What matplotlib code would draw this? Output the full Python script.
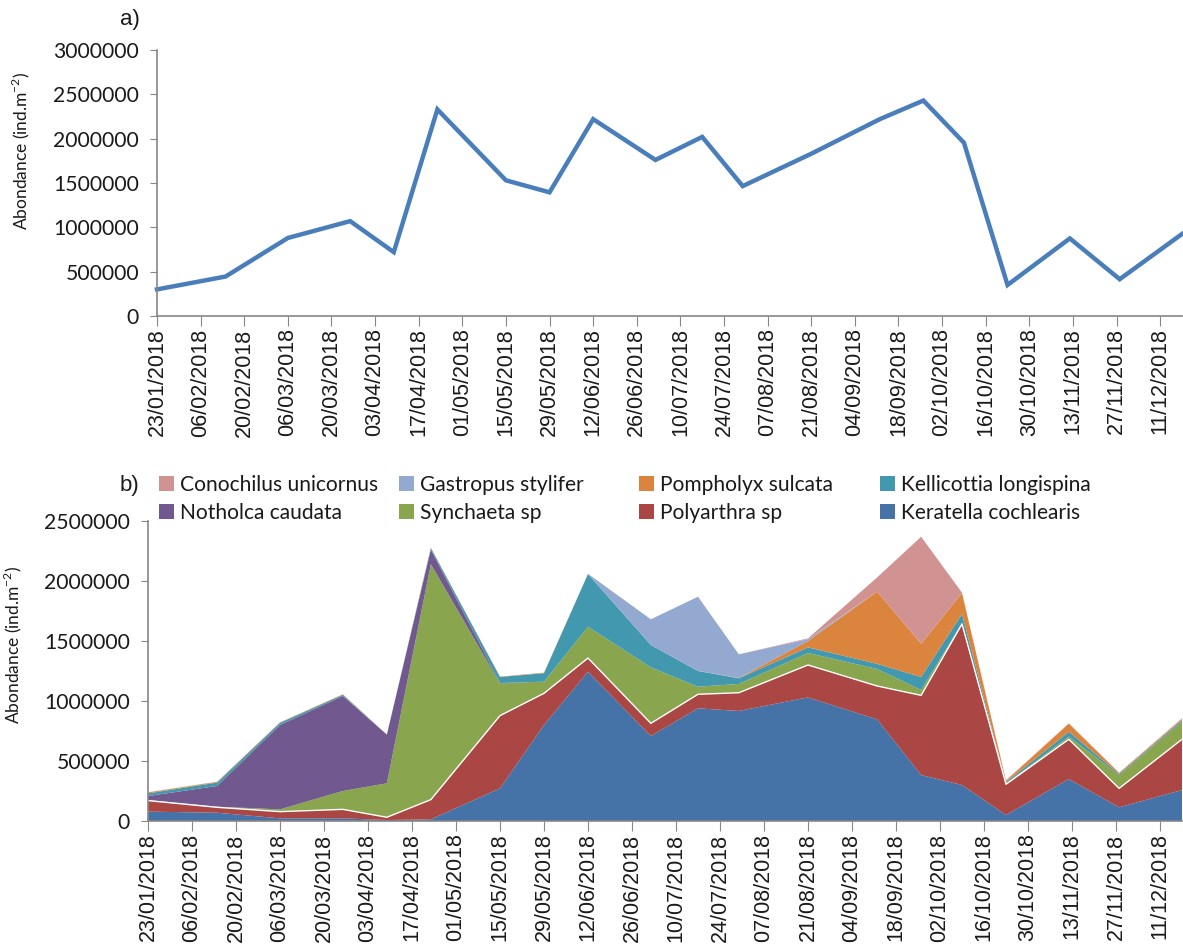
import matplotlib

matplotlib.use("Agg")
import matplotlib.pyplot as plt
import numpy as np
from matplotlib.patches import Patch
from matplotlib.ticker import StrMethodFormatter

# sampling dates (same for both panels)
sample_dates = np.array(
    [
        "2018-01-23", "2018-02-14", "2018-03-06", "2018-03-26", "2018-04-09",
        "2018-04-23", "2018-05-15", "2018-05-29", "2018-06-12", "2018-07-02",
        "2018-07-17", "2018-07-30", "2018-08-21", "2018-09-12", "2018-09-26",
        "2018-10-09", "2018-10-23", "2018-11-12", "2018-11-28", "2018-12-18",
    ],
    dtype="datetime64[D]",
)

tick_labels = [
    "23/01/2018", "06/02/2018", "20/02/2018", "06/03/2018", "20/03/2018",
    "03/04/2018", "17/04/2018", "01/05/2018", "15/05/2018", "29/05/2018",
    "12/06/2018", "26/06/2018", "10/07/2018", "24/07/2018", "07/08/2018",
    "21/08/2018", "04/09/2018", "18/09/2018", "02/10/2018", "16/10/2018",
    "30/10/2018", "13/11/2018", "27/11/2018", "11/12/2018",
]

# panel a) total abundance
total_abundance = [
    300000, 445000, 880000, 1070000, 720000, 2330000, 1530000, 1395000,
    2220000, 1760000, 2020000, 1465000, 1830000, 2220000, 2430000, 1955000,
    350000, 875000, 415000, 925000,
]

# panel b) species abundance (stack order, bottom to top)
keratella = [
    78000, 69000, 22000, 22000, 8000, 14000, 272000, 800000, 1244000, 708000,
    939000, 917000, 1030000, 847000, 383000, 300000, 50000, 350000, 114000, 258000,
]
polyarthra = [
    92000, 45000, 56000, 75000, 23000, 164000, 606000, 264000, 114000, 106000,
    117000, 152000, 270000, 278000, 664000, 1342000, 256000, 331000, 158000, 423000,
]
synchaeta = [
    5000, 5000, 19000, 153000, 283000, 1962000, 269000, 97000, 261000, 467000,
    63000, 73000, 100000, 142000, 45000, 8000, 6000, 22000, 111000, 147000,
]
notholca = [
    33000, 173000, 703000, 792000, 406000, 122000, 3000, 0, 0, 0,
    0, 0, 0, 0, 0, 0, 0, 0, 0, 0,
]
kellicottia = [
    22000, 28000, 18000, 10000, 0, 13000, 50000, 71000, 439000, 186000,
    131000, 47000, 47000, 43000, 108000, 75000, 10000, 41000, 9000, 12000,
]
pompholyx = [
    8000, 6000, 4000, 4000, 0, 3000, 3000, 4000, 0, 0,
    0, 3000, 53000, 601000, 278000, 175000, 13000, 68000, 8000, 10000,
]
gastropus = [
    2000, 2000, 0, 0, 0, 0, 0, 0, 2000, 214000,
    619000, 197000, 15000, 0, 0, 0, 0, 0, 0, 0,
]
conochilus = [
    0, 0, 0, 0, 0, 0, 0, 0, 0, 0,
    0, 0, 7000, 119000, 891000, 3000, 5000, 2000, 3000, 6000,
]

species_names = [
    "Keratella cochlearis", "Polyarthra sp", "Synchaeta sp", "Notholca caudata",
    "Kellicottia longispina", "Pompholyx sulcata", "Gastropus stylifer",
    "Conochilus unicornus",
]
species_colors = [
    "#4572A7", "#AA4643", "#89A54E", "#71588F",
    "#4198AF", "#DB843D", "#93A9CF", "#D19392",
]

plt.rcParams["font.family"] = ["Lato", "DejaVu Sans"]
plt.rcParams["mathtext.fontset"] = "custom"
plt.rcParams["mathtext.rm"] = "Lato"

AXIS_GREY = "#868686"
TEXT_COLOR = "#1a1a1a"
W, H = 1183, 951

tick_dates = np.array(
    [f"{s[6:]}-{s[3:5]}-{s[:2]}" for s in tick_labels], dtype="datetime64[D]"
)


def style_axis(ax, ymax):
    for side in ("top", "right"):
        ax.spines[side].set_visible(False)
    for side in ("left", "bottom"):
        ax.spines[side].set_color(AXIS_GREY)
        ax.spines[side].set_linewidth(1.2)
    ax.set_xlim(sample_dates[0], sample_dates[-1])
    ax.set_ylim(0, ymax)
    ax.set_yticks(np.arange(0, ymax + 1, 500000))
    ax.yaxis.set_major_formatter(StrMethodFormatter("{x:.0f}"))
    ax.set_xticks(tick_dates)
    ax.set_xticklabels(
        tick_labels, rotation=90, fontfamily="Liberation Sans",
        fontsize=15.5, color=TEXT_COLOR,
    )
    ax.tick_params(axis="x", length=7, color=AXIS_GREY, pad=2)
    ax.tick_params(axis="y", length=5, color=AXIS_GREY, labelsize=15.2,
                   labelcolor=TEXT_COLOR, pad=8)


fig = plt.figure(figsize=(W / 100, H / 100), dpi=100)

# a) total abundance line
ax_a = fig.add_axes([157 / W, 1 - 316 / H, 1025 / W, 266 / H])
ax_a.plot(sample_dates, total_abundance, color="#4A7EBB", lw=3.2,
          solid_joinstyle="miter", clip_on=False)
style_axis(ax_a, 3000000)
ax_a.set_ylabel("Abondance (ind.m$^{-2}$)", fontsize=12.5, color=TEXT_COLOR)
ax_a.yaxis.set_label_coords(-0.122, 0.62)
fig.text(120 / W, 1 - 20 / H, "a)", fontfamily="Liberation Sans",
         fontsize=16, va="center", ha="left", color=TEXT_COLOR)

# b) stacked species abundance
ax_b = fig.add_axes([148 / W, 1 - 821 / H, 1034 / W, 300 / H])
species_values = [keratella, polyarthra, synchaeta, notholca,
                  kellicottia, pompholyx, gastropus, conochilus]
polys = ax_b.stackplot(sample_dates, *species_values, colors=species_colors,
                       labels=species_names, linewidth=0)
for poly in polys:
    poly.set_clip_on(False)
red_top = np.array(keratella) + np.array(polyarthra)
ax_b.plot(sample_dates, red_top, color="white", lw=1.0)
style_axis(ax_b, 2500000)
ax_b.set_ylabel("Abondance (ind.m$^{-2}$)", fontsize=12.5, color=TEXT_COLOR)
ax_b.yaxis.set_label_coords(-0.12, 0.587)
fig.text(120 / W, 1 - 485 / H, "b)", fontfamily="Liberation Sans",
         fontsize=16, va="center", ha="left", color=TEXT_COLOR)

# legend in four evenly spaced columns, two rows each
legend_order = [7, 3, 6, 2, 5, 1, 4, 0]
column_x = [159, 399, 639, 880]
for col, x in enumerate(column_x):
    idx = legend_order[2 * col: 2 * col + 2]
    handles = [Patch(facecolor=species_colors[i], edgecolor="none") for i in idx]
    fig.legend(
        handles, [species_names[i] for i in idx],
        loc="upper left", bbox_to_anchor=(x / W, 1 - 475 / H),
        frameon=False, fontsize=15.1, handlelength=0.71, handleheight=0.71,
        handletextpad=0.29, labelspacing=0.38, borderpad=0, borderaxespad=0,
        labelcolor=TEXT_COLOR,
    )

fig.savefig("out.png", dpi=100)
plt.close(fig)
